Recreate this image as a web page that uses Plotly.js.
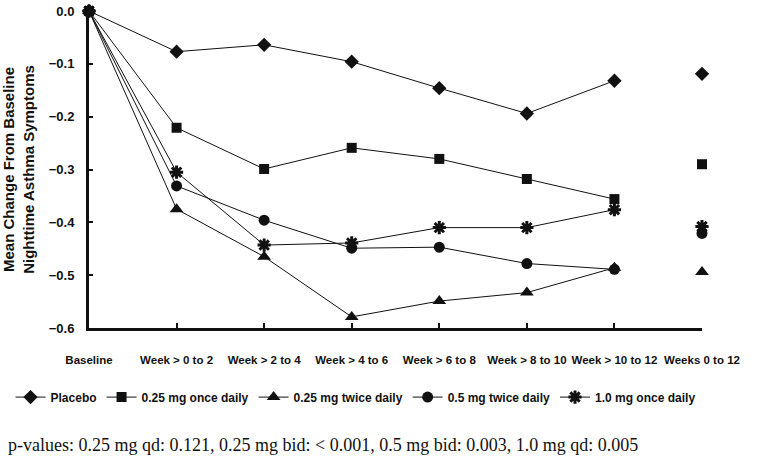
<!DOCTYPE html>
<html>
<head>
<meta charset="utf-8">
<script src="https://cdn.plot.ly/plotly-3.0.1.min.js"></script>
<style>html,body{margin:0;padding:0;background:#fff;}#chart{width:769px;height:471px;}</style>
</head>
<body>
<div id="chart"></div>
<script>
var categories = ["Baseline","Week > 0 to 2","Week > 2 to 4","Week > 4 to 6","Week > 6 to 8","Week > 8 to 10","Week > 10 to 12","Weeks 0 to 12"];
var seriesNames = ["Placebo","0.25 mg once daily","0.25 mg twice daily","0.5 mg twice daily","1.0 mg once daily"];
var placebo  = [0, -0.077, -0.064, -0.096, -0.146, -0.194, -0.132, -0.119];
var qd025    = [0, -0.221, -0.299, -0.259, -0.280, -0.318, -0.356, -0.290];
var bid025   = [0, -0.375, -0.465, -0.579, -0.549, -0.533, -0.486, -0.494];
var bid05    = [0, -0.331, -0.396, -0.449, -0.447, -0.478, -0.489, -0.421];
var qd10     = [0, -0.305, -0.443, -0.439, -0.410, -0.410, -0.376, -0.408];
var yTicks = [0, -0.1, -0.2, -0.3, -0.4, -0.5, -0.6];
var footnote = "p-values: 0.25 mg qd: 0.121, 0.25 mg bid: < 0.001, 0.5 mg bid: 0.003, 1.0 mg qd: 0.005";

var allSeries = [placebo, qd025, bid025, bid05, qd10];
var symbols = ["diamond","square","triangle-up","circle","asterisk-open"];
var sizes = [11, 10, 12, 11, 11];

var traces = [];
allSeries.forEach(function(vals, i){
  var mk = {symbol: symbols[i], size: sizes[i], color: "#111"};
  if (symbols[i] === "asterisk-open") mk.line = {color: "#111", width: 3};
  traces.push({
    type: "scatter", mode: "lines+markers", name: seriesNames[i],
    x: categories.slice(0, 7), y: vals.slice(0, 7),
    line: {color: "#111", width: 1},
    marker: mk, cliponaxis: false
  });
  traces.push({
    type: "scatter", mode: "markers", name: seriesNames[i], showlegend: false,
    x: categories.slice(7), y: vals.slice(7),
    marker: mk, cliponaxis: false
  });
});

var font = "Liberation Sans, Arial, sans-serif";
var layout = {
  width: 769, height: 471,
  margin: {l: 89, r: 67, t: 11, b: 143},
  paper_bgcolor: "#fff", plot_bgcolor: "#fff",
  showlegend: true,
  xaxis: {
    type: "category", categoryorder: "array", categoryarray: categories,
    range: [0, 7], showgrid: false, zeroline: false,
    showline: true, linecolor: "#111", linewidth: 3,
    ticks: "inside", ticklen: 5, tickwidth: 2, tickcolor: "#111",
    ticklabelstandoff: 19, tickangle: 0,
    tickfont: {family: font, size: 11.5, color: "#111", weight: "bold"}
  },
  yaxis: {
    range: [-0.6, 0], tickvals: yTicks, tickformat: ".1f",
    showgrid: false, zeroline: false,
    showline: true, linecolor: "#111", linewidth: 3,
    ticks: "inside", ticklen: 4, tickwidth: 2, tickcolor: "#111",
    ticklabelstandoff: 9,
    tickfont: {family: font, size: 13, color: "#111", weight: "bold"},
    title: {text: "Mean Change From Baseline<br>Nighttime Asthma Symptoms", standoff: 14,
            font: {family: font, size: 15, color: "#111", weight: "bold"}}
  },
  legend: {
    orientation: "h", x: -0.128, xanchor: "left", y: -0.218, yanchor: "middle",
    font: {family: font, size: 12, color: "#111", weight: "bold"},
    itemwidth: 30, tracegroupgap: 0, bgcolor: "rgba(0,0,0,0)"
  },
  annotations: [{
    xref: "paper", yref: "paper", x: -0.136, y: -0.369, xanchor: "left", yanchor: "middle",
    text: footnote, showarrow: false,
    font: {family: "Liberation Serif, Times New Roman, serif", size: 18, color: "#111"}
  }]
};

Plotly.newPlot("chart", traces, layout, {displayModeBar: false, staticPlot: true});
</script>
</body>
</html>
